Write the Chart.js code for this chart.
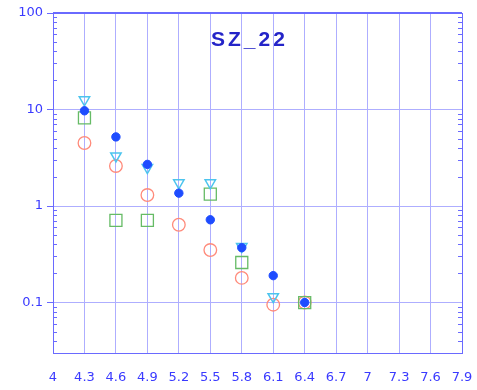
<!DOCTYPE html>
<html>
<head>
<meta charset="utf-8">
<script src="https://cdn.jsdelivr.net/npm/chart.js@4.4.0/dist/chart.umd.min.js"></script>
<style>
html,body{margin:0;padding:0;background:#fff;}
#wrap{position:relative;width:477px;height:390px;}
#title{position:absolute;left:211px;top:27px;font:bold 21px "Liberation Sans",Arial,sans-serif;letter-spacing:3px;color:#2424c8;}
</style>
</head>
<body>
<div id="wrap">
<canvas id="c" width="477" height="390"></canvas>
<div id="title">SZ_22</div>
</div>
<script>
const xCategories = [4.3, 4.6, 4.9, 5.2, 5.5, 5.8, 6.1, 6.4];
const seriesBlue  = [9.7, 5.2, 2.7, 1.36, 0.72, 0.37, 0.19, 0.10];
const seriesCyan  = [12.6, 3.3, 2.5, 1.74, 1.74, 0.38, 0.115, null];
const seriesGreen = [8.2, 0.71, 0.71, null, 1.33, 0.26, null, 0.10];
const seriesRed   = [4.5, 2.6, 1.3, 0.64, 0.35, 0.18, 0.095, 0.10];
const xTickValues = [4, 4.3, 4.6, 4.9, 5.2, 5.5, 5.8, 6.1, 6.4, 6.7, 7, 7.3, 7.6, 7.9];
const yTickValues = [0.1, 1, 10, 100];
const yTickLabels = ["0.1", "1", "10", "100"];

function pts(arr){ return xCategories.map((x,i)=>arr[i]==null?null:{x:x,y:arr[i]}).filter(p=>p); }

const axisColor = '#6a6aff';
const gridColor = '#aeaeff';
const tickFont = {family:'"DejaVu Sans", sans-serif', size:13};

const frame = {
  id:'frame',
  afterDraw(chart){
    const {ctx, chartArea:a, scales} = chart;
    const y = scales.y;
    ctx.save();
    ctx.strokeStyle = axisColor;
    ctx.lineWidth = 1;
    for (let d=-2; d<2; d++){
      for (let m=2; m<10; m++){
        const v = m*Math.pow(10,d);
        if (v < y.min || v > y.max) continue;
        const py = Math.round(y.getPixelForValue(v))+0.5;
        ctx.beginPath();
        ctx.moveTo(a.left, py); ctx.lineTo(a.left+4, py);
        ctx.moveTo(a.right, py); ctx.lineTo(a.right-4, py);
        ctx.stroke();
      }
    }
    ctx.strokeRect(Math.round(a.left)+0.5, Math.round(a.top)+0.5, Math.round(a.right-a.left), Math.round(a.bottom-a.top));
    ctx.lineWidth = 2;
    ctx.beginPath(); ctx.moveTo(a.left, Math.round(a.top)); ctx.lineTo(a.right, Math.round(a.top)); ctx.stroke();
    ctx.restore();
  }
};

new Chart(document.getElementById('c'), {
  type:'scatter',
  data:{
    datasets:[
      {label:'blue', data:pts(seriesBlue), order:0, pointStyle:'circle', pointRadius:4.2, backgroundColor:'#1e4cff', borderColor:'#1e4cff', borderWidth:1},
      {label:'cyan', data:pts(seriesCyan), order:1, pointStyle:'triangle', rotation:180, pointRadius:6, backgroundColor:'rgba(0,0,0,0)', borderColor:'#4cc4ee', borderWidth:1.5},
      {label:'green', data:pts(seriesGreen), order:2, pointStyle:'rect', pointRadius:8.5, backgroundColor:'rgba(0,0,0,0)', borderColor:'#66bb66', borderWidth:1.3},
      {label:'red', data:pts(seriesRed), order:3, pointStyle:'circle', pointRadius:6.3, backgroundColor:'rgba(0,0,0,0)', borderColor:'#ff8a7a', borderWidth:1.3}
    ]
  },
  options:{
    responsive:false, animation:false, devicePixelRatio:1,
    layout:{padding:{left:0, right:15, top:13, bottom:0}},
    plugins:{legend:{display:false}, tooltip:{enabled:false}},
    scales:{
      x:{
        type:'linear', min:4, max:7.9,
        afterBuildTicks(s){ s.ticks = xTickValues.map(v=>({value:v})); },
        afterFit(s){ s.height = 37; s.paddingLeft = 0; s.paddingRight = 0; },
        ticks:{autoSkip:false, maxRotation:0, padding:17, color:'#3a3aff', font:tickFont,
          callback:(v)=>String(v)},
        grid:{color:gridColor, drawTicks:false, lineWidth:1},
        border:{display:true, color:axisColor}
      },
      y:{
        type:'logarithmic', min:0.03, max:100,
        afterBuildTicks(s){ s.ticks = yTickValues.map(v=>({value:v})); },
        afterFit(s){ s.width = 53; s.paddingTop = 0; s.paddingBottom = 0; },
        ticks:{autoSkip:false, padding:4, color:'#3a3aff', font:tickFont,
          callback:(v)=>{ const i = yTickValues.indexOf(v); return i>=0?yTickLabels[i]:''; }},
        grid:{color:gridColor, tickLength:6, tickColor:axisColor, lineWidth:1},
        border:{display:true, color:axisColor}
      }
    }
  },
  plugins:[frame]
});
</script>
</body>
</html>
